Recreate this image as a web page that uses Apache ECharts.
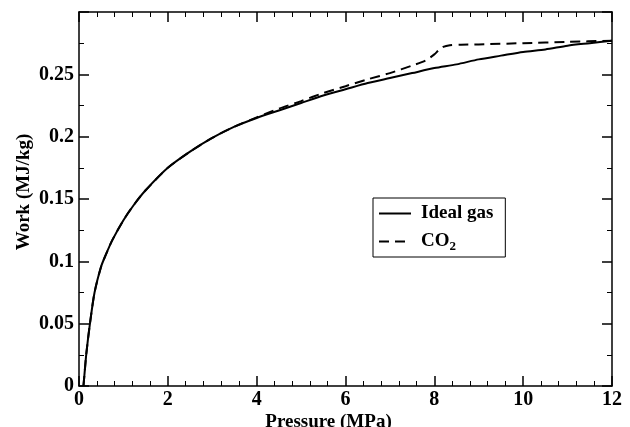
<!DOCTYPE html>
<html>
<head>
<meta charset="utf-8">
<script src="https://cdn.jsdelivr.net/npm/echarts@6/dist/echarts.min.js"></script>
<style>
  html, body { margin: 0; padding: 0; background: #fff; }
  #chart { width: 630px; height: 427px; }
</style>
</head>
<body>
<div id="chart"></div>
<script>
// pressure (MPa) / work (MJ/kg)
const idealP = [0.1, 0.12, 0.165, 0.25, 0.35, 0.5, 0.6, 0.75, 1.0, 1.25, 1.5, 2.0, 2.5, 3.0, 3.5, 4.0,
                4.5, 5.0, 5.5, 6.0, 6.5, 7.0, 7.5, 8.0, 8.5, 9.0, 9.5, 10.0, 10.5, 11.0, 11.5, 12.0];
const idealW = [0, 0.008, 0.026, 0.051, 0.075, 0.096, 0.105, 0.117, 0.133, 0.146, 0.157, 0.175, 0.188, 0.199, 0.208, 0.215,
                0.221, 0.227, 0.233, 0.238, 0.243, 0.247, 0.251, 0.255, 0.258, 0.262, 0.265, 0.268, 0.270, 0.273, 0.275, 0.277];

const co2P = [0.1, 0.12, 0.165, 0.25, 0.35, 0.5, 0.6, 0.75, 1.0, 1.25, 1.5, 2.0, 2.5, 3.0, 3.5, 4.0,
              4.5, 5.0, 5.5, 6.0, 6.5, 7.0, 7.5, 7.8, 8.0, 8.1, 8.2, 8.35, 8.6, 9.0, 10.0, 11.0, 12.0];
const co2W = [0, 0.008, 0.026, 0.051, 0.075, 0.096, 0.105, 0.117, 0.133, 0.146, 0.157, 0.175, 0.188, 0.199, 0.208, 0.2155,
              0.2225, 0.2285, 0.235, 0.2405, 0.246, 0.251, 0.257, 0.261, 0.266, 0.2695, 0.272, 0.2733, 0.2738, 0.274, 0.275, 0.276, 0.277];

const xTicks = [0, 2, 4, 6, 8, 10, 12];
const yTicks = [0, 0.05, 0.1, 0.15, 0.2, 0.25, 0.3];

const font = 'Liberation Serif';

function pairs(xs, ys) {
    return xs.map((x, i) => [x, ys[i]]);
}

const frameAxis = {
    axisLine: { onZero: false, lineStyle: { color: '#000', width: 1.5 } },
    axisTick: { inside: true, length: 10, lineStyle: { color: '#000', width: 1.5 } },
    minorTick: { show: true, length: 5, lineStyle: { color: '#000', width: 1 } },
    splitLine: { show: false },
};

const chart = echarts.init(document.getElementById('chart'));
chart.setOption({
    backgroundColor: '#fff',
    animation: false,
    grid: { left: 79, right: 18, top: 12, bottom: 41, containLabel: false, outerBoundsMode: 'none' },
    legend: {
        orient: 'vertical',
        left: 373,
        top: 198,
        padding: [6, 12, 4, 5],
        itemGap: 9,
        itemWidth: 32,
        itemHeight: 14,
        borderColor: '#000',
        borderWidth: 1,
        backgroundColor: '#fff',
        itemStyle: { opacity: 0 },
        data: ['Ideal gas', 'CO2'],
        formatter: name => name === 'CO2' ? '{a|CO}{s|2}' : '{a|' + name + '}',
        textStyle: {
            color: '#000',
            rich: {
                a: { fontFamily: font, fontWeight: 'bold', fontSize: 19, color: '#000', padding: [0, 0, 0, 5] },
                s: { fontFamily: font, fontWeight: 'bold', fontSize: 13, color: '#000', padding: [10, 0, 0, 0] }
            }
        }
    },
    xAxis: [
        Object.assign({
            type: 'value', min: 0, max: 12, interval: 2,
            name: 'Pressure (MPa)', nameLocation: 'middle', nameGap: 27, nameMoveOverlap: false,
            nameTextStyle: { fontFamily: font, fontWeight: 'bold', fontSize: 19, color: '#000', padding: [0, 34, 0, 0] },
            axisLabel: { fontFamily: font, fontWeight: 'bold', fontSize: 20, color: '#000', margin: 4 },
        }, frameAxis, { minorTick: Object.assign({}, frameAxis.minorTick, { splitNumber: 5 }) }),
        Object.assign({
            type: 'value', min: 0, max: 12, interval: 2, position: 'top',
            axisLabel: { show: false },
        }, frameAxis, { minorTick: Object.assign({}, frameAxis.minorTick, { splitNumber: 5 }) })
    ],
    yAxis: [
        Object.assign({
            type: 'value', min: 0, max: 0.3, interval: 0.05,
            name: 'Work (MJ/kg)', nameLocation: 'middle', nameGap: 45, nameMoveOverlap: false,
            nameTextStyle: { fontFamily: font, fontWeight: 'bold', fontSize: 19, color: '#000', padding: [0, 0, 0, 14] },
            axisLabel: {
                fontFamily: font, fontWeight: 'bold', fontSize: 20, color: '#000', margin: 5,
                formatter: v => (v > 0.29 ? '' : String(+v.toFixed(2)))
            },
        }, frameAxis, { minorTick: Object.assign({}, frameAxis.minorTick, { splitNumber: 2 }) }),
        Object.assign({
            type: 'value', min: 0, max: 0.3, interval: 0.05, position: 'right',
            axisLabel: { show: false },
        }, frameAxis, { minorTick: Object.assign({}, frameAxis.minorTick, { splitNumber: 2 }) })
    ],
    series: [
        {
            name: 'Ideal gas',
            type: 'line',
            data: pairs(idealP, idealW),
            symbol: 'none',
            smooth: 0.25,
            lineStyle: { color: '#000', width: 2, type: 'solid' },
            itemStyle: { color: '#000' },
        },
        {
            name: 'CO2',
            type: 'line',
            data: pairs(co2P, co2W),
            symbol: 'none',
            smooth: 0.25,
            lineStyle: { color: '#000', width: 2, type: [10, 6] },
            itemStyle: { color: '#000' },
        }
    ]
});
</script>
</body>
</html>
